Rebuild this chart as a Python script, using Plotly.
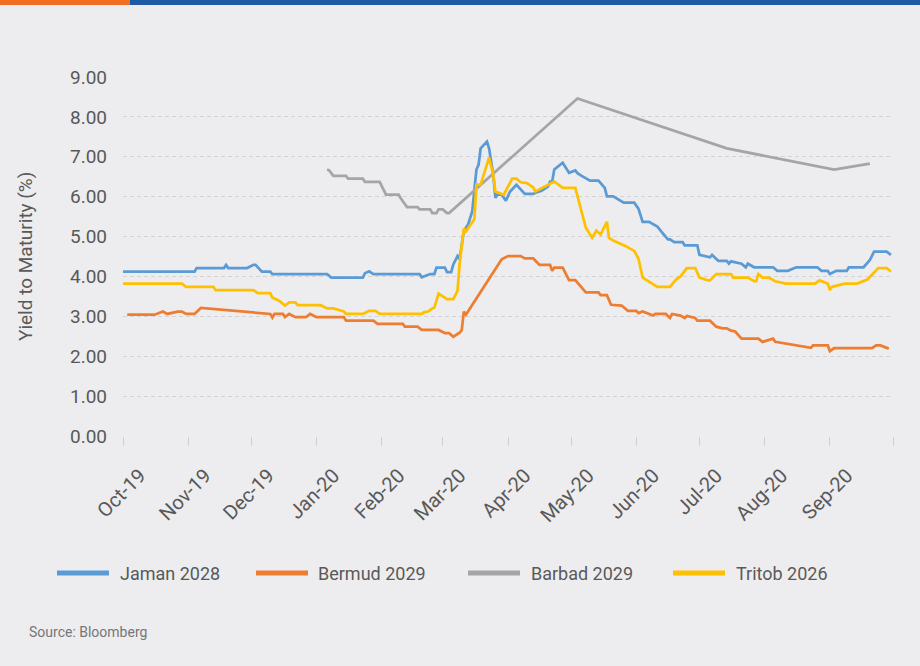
import plotly.graph_objects as go

# ---------------- data ----------------
jaman_dates = [
    "2019-10-01", "2019-11-04", "2019-11-05", "2019-11-18", "2019-11-19", "2019-11-20", "2019-11-29",
    "2019-12-02", "2019-12-03", "2019-12-06", "2019-12-10", "2019-12-11", "2020-01-06", "2020-01-08",
    "2020-01-23", "2020-01-24", "2020-01-26", "2020-01-28", "2020-02-19", "2020-02-20", "2020-02-24",
    "2020-02-26", "2020-02-27", "2020-03-02", "2020-03-03", "2020-03-05", "2020-03-06", "2020-03-08",
    "2020-03-09", "2020-03-11", "2020-03-13", "2020-03-15", "2020-03-17", "2020-03-18", "2020-03-19",
    "2020-03-22", "2020-03-23", "2020-03-25", "2020-03-26", "2020-03-27", "2020-03-29", "2020-03-31",
    "2020-04-02", "2020-04-05", "2020-04-09", "2020-04-13", "2020-04-14", "2020-04-17", "2020-04-20",
    "2020-04-21", "2020-04-22", "2020-04-23", "2020-04-27", "2020-04-30", "2020-05-03", "2020-05-04",
    "2020-05-06", "2020-05-08", "2020-05-10", "2020-05-14", "2020-05-17", "2020-05-18", "2020-05-21",
    "2020-05-26", "2020-05-31", "2020-06-02", "2020-06-03", "2020-06-04", "2020-06-07", "2020-06-09",
    "2020-06-11", "2020-06-13", "2020-06-16", "2020-06-17", "2020-06-19", "2020-06-23", "2020-06-24",
    "2020-06-30", "2020-07-01", "2020-07-06", "2020-07-07", "2020-07-10", "2020-07-14", "2020-07-15",
    "2020-07-16", "2020-07-21", "2020-07-23", "2020-07-24", "2020-07-27", "2020-08-05", "2020-08-07",
    "2020-08-12", "2020-08-16", "2020-08-26", "2020-08-28", "2020-08-31", "2020-09-01", "2020-09-04",
    "2020-09-09", "2020-09-10", "2020-09-17", "2020-09-20", "2020-09-22", "2020-09-28", "2020-09-30",
]
jaman_values = [
    4.12, 4.12, 4.21, 4.21, 4.29, 4.21, 4.21,
    4.29, 4.29, 4.12, 4.12, 4.06, 4.06, 3.97,
    3.97, 4.08, 4.13, 4.06, 4.06, 3.98, 4.06,
    4.06, 4.22, 4.22, 4.11, 4.11, 4.30, 4.51,
    4.43, 5.14, 5.30, 5.63, 6.68, 6.80, 7.21,
    7.38, 7.21, 6.55, 5.97, 6.05, 6.05, 5.90,
    6.13, 6.30, 6.07, 6.07, 6.10, 6.15, 6.25,
    6.38, 6.38, 6.68, 6.85, 6.60, 6.66, 6.59,
    6.52, 6.45, 6.40, 6.40, 6.22, 6.01, 6.01,
    5.85, 5.85, 5.70, 5.54, 5.37, 5.37, 5.30,
    5.25, 5.12, 4.93, 4.93, 4.86, 4.86, 4.78,
    4.78, 4.54, 4.48, 4.54, 4.39, 4.39, 4.32,
    4.38, 4.32, 4.23, 4.32, 4.23, 4.23, 4.14,
    4.14, 4.23, 4.23, 4.14, 4.14, 4.06, 4.14,
    4.14, 4.23, 4.23, 4.41, 4.62, 4.62, 4.54,
]

bermud_dates = [
    "2019-10-03", "2019-10-16", "2019-10-20", "2019-10-22", "2019-10-27", "2019-10-29", "2019-10-31",
    "2019-11-04", "2019-11-07", "2019-12-10", "2019-12-11", "2019-12-12", "2019-12-16", "2019-12-17",
    "2019-12-19", "2019-12-22", "2019-12-27", "2019-12-29", "2020-01-01", "2020-01-14", "2020-01-15",
    "2020-01-28", "2020-01-30", "2020-02-11", "2020-02-12", "2020-02-18", "2020-02-20", "2020-02-28",
    "2020-03-02", "2020-03-04", "2020-03-06", "2020-03-09", "2020-03-10", "2020-03-11", "2020-03-12",
    "2020-03-29", "2020-04-01", "2020-04-07", "2020-04-09", "2020-04-13", "2020-04-16", "2020-04-21",
    "2020-04-22", "2020-04-23", "2020-04-27", "2020-04-30", "2020-05-03", "2020-05-08", "2020-05-14",
    "2020-05-15", "2020-05-18", "2020-05-20", "2020-05-25", "2020-05-28", "2020-06-01", "2020-06-02",
    "2020-06-04", "2020-06-09", "2020-06-10", "2020-06-15", "2020-06-17", "2020-06-18", "2020-06-22",
    "2020-06-24", "2020-06-25", "2020-06-29", "2020-06-30", "2020-07-06", "2020-07-09", "2020-07-12",
    "2020-07-14", "2020-07-16", "2020-07-18", "2020-07-21", "2020-07-29", "2020-07-31", "2020-08-05",
    "2020-08-06", "2020-08-23", "2020-08-24", "2020-08-31", "2020-09-01", "2020-09-03", "2020-09-21",
    "2020-09-23", "2020-09-25", "2020-09-29",
]
bermud_values = [
    3.04, 3.04, 3.12, 3.06, 3.12, 3.12, 3.06,
    3.06, 3.21, 3.06, 2.97, 3.06, 3.06, 2.98,
    3.06, 2.98, 2.98, 3.06, 2.98, 2.98, 2.89,
    2.89, 2.81, 2.81, 2.74, 2.74, 2.66, 2.66,
    2.58, 2.58, 2.49, 2.59, 2.65, 3.12, 3.04,
    4.43, 4.51, 4.51, 4.45, 4.45, 4.29, 4.29,
    4.14, 4.22, 4.22, 3.91, 3.91, 3.60, 3.60,
    3.53, 3.53, 3.29, 3.27, 3.14, 3.14, 3.08,
    3.12, 3.02, 3.06, 3.06, 2.96, 3.06, 3.02,
    2.96, 3.01, 2.96, 2.89, 2.89, 2.74, 2.70,
    2.70, 2.64, 2.62, 2.44, 2.44, 2.36, 2.44,
    2.36, 2.21, 2.27, 2.27, 2.13, 2.20, 2.20,
    2.27, 2.27, 2.19,
]

barbad_dates = [
    "2020-01-06", "2020-01-07", "2020-01-09", "2020-01-15", "2020-01-16", "2020-01-23", "2020-01-24",
    "2020-01-31", "2020-02-03", "2020-02-09", "2020-02-10", "2020-02-13", "2020-02-18", "2020-02-19",
    "2020-02-24", "2020-02-25", "2020-02-27", "2020-02-28", "2020-03-01", "2020-03-03", "2020-03-04",
    "2020-05-04", "2020-07-14", "2020-08-25", "2020-09-03", "2020-09-20",
]
barbad_values = [
    6.68, 6.66, 6.52, 6.52, 6.45, 6.45, 6.37,
    6.37, 6.05, 6.05, 5.96, 5.74, 5.74, 5.68,
    5.68, 5.59, 5.59, 5.68, 5.68, 5.59, 5.59,
    8.46, 7.21, 6.76, 6.68, 6.83,
]

tritob_dates = [
    "2019-10-01", "2019-10-29", "2019-10-31", "2019-11-13", "2019-11-14", "2019-12-02", "2019-12-04",
    "2019-12-10", "2019-12-11", "2019-12-14", "2019-12-17", "2019-12-19", "2019-12-22", "2019-12-23",
    "2020-01-03", "2020-01-06", "2020-01-09", "2020-01-14", "2020-01-15", "2020-01-23", "2020-01-26",
    "2020-01-29", "2020-01-31", "2020-02-20", "2020-02-21", "2020-02-23", "2020-02-25", "2020-02-26",
    "2020-02-28", "2020-03-03", "2020-03-06", "2020-03-08", "2020-03-09", "2020-03-11", "2020-03-12",
    "2020-03-16", "2020-03-17", "2020-03-19", "2020-03-23", "2020-03-25", "2020-03-26", "2020-03-30",
    "2020-04-01", "2020-04-03", "2020-04-05", "2020-04-07", "2020-04-10", "2020-04-13", "2020-04-14",
    "2020-04-22", "2020-04-23", "2020-04-27", "2020-05-03", "2020-05-08", "2020-05-11", "2020-05-13",
    "2020-05-15", "2020-05-18", "2020-05-19", "2020-05-21", "2020-05-27", "2020-05-31", "2020-06-02",
    "2020-06-04", "2020-06-07", "2020-06-11", "2020-06-17", "2020-06-20", "2020-06-22", "2020-06-25",
    "2020-06-29", "2020-07-01", "2020-07-05", "2020-07-06", "2020-07-09", "2020-07-16", "2020-07-17",
    "2020-07-24", "2020-07-27", "2020-07-28", "2020-07-29", "2020-07-31", "2020-08-03", "2020-08-06",
    "2020-08-11", "2020-08-25", "2020-08-27", "2020-08-31", "2020-09-01", "2020-09-02", "2020-09-08",
    "2020-09-14", "2020-09-19", "2020-09-21", "2020-09-24", "2020-09-28", "2020-09-30",
]
tritob_values = [
    3.82, 3.82, 3.74, 3.74, 3.66, 3.66, 3.58,
    3.58, 3.47, 3.40, 3.27, 3.35, 3.35, 3.28,
    3.28, 3.20, 3.20, 3.12, 3.06, 3.06, 3.14,
    3.14, 3.06, 3.06, 3.10, 3.12, 3.20, 3.22,
    3.57, 3.43, 3.43, 3.64, 4.31, 5.20, 5.13,
    5.43, 6.30, 6.30, 6.98, 6.55, 6.13, 6.05,
    6.25, 6.45, 6.45, 6.36, 6.34, 6.23, 6.13,
    6.34, 6.38, 6.22, 6.22, 5.22, 4.97, 5.15,
    5.05, 5.37, 4.97, 4.90, 4.76, 4.64, 4.45,
    3.97, 3.87, 3.74, 3.74, 3.93, 4.00, 4.21,
    4.21, 3.97, 3.90, 3.90, 4.06, 4.06, 3.97,
    3.97, 3.88, 3.88, 4.06, 3.97, 3.97, 3.88,
    3.82, 3.82, 3.90, 3.82, 3.66, 3.74, 3.82,
    3.82, 3.93, 4.05, 4.21, 4.21, 4.12,
]

series_names = ["Jaman 2028", "Bermud 2029", "Barbad 2029", "Tritob 2026"]
series_colors = ["#5B9BD5", "#ED7D31", "#A5A5A5", "#FFC000"]

month_ticks = ["2019-10-01", "2019-11-01", "2019-12-01", "2020-01-01", "2020-02-01", "2020-03-01",
               "2020-04-01", "2020-05-01", "2020-06-01", "2020-07-01", "2020-08-01", "2020-09-01",
               "2020-10-01"]
month_labels = ["Oct-19", "Nov-19", "Dec-19", "Jan-20", "Feb-20", "Mar-20", "Apr-20", "May-20",
                "Jun-20", "Jul-20", "Aug-20", "Sep-20", ""]
y_ticks = [0, 1, 2, 3, 4, 5, 6, 7, 8, 9]

y_title = "Yield to Maturity (%)"
source_text = "Source: Bloomberg"

# ---------------- layout geometry ----------------
W, H = 920, 666
L, R, T, B = 123, 27, 77, 230
PW, PH = W - L - R, H - T - B


def px(x):
    return (x - L) / PW


def py(y):
    return (T + PH - y) / PH


FONT = "Roboto, 'Liberation Sans', Arial, sans-serif"
TXT = "#595959"
BG = "#EDEDEF"

fig = go.Figure()
all_series = [
    (jaman_dates, jaman_values),
    (bermud_dates, bermud_values),
    (barbad_dates, barbad_values),
    (tritob_dates, tritob_values),
]
for (d, v), name, col in zip(all_series, series_names, series_colors):
    fig.add_trace(go.Scatter(x=d, y=v, mode="lines", name=name,
                             line=dict(color=col, width=2.75), showlegend=False))

shapes = [
    dict(type="rect", xref="paper", yref="paper", x0=px(0), x1=px(130), y0=py(5), y1=py(0),
         fillcolor="#F26F21", line=dict(width=0), layer="above"),
    dict(type="rect", xref="paper", yref="paper", x0=px(130), x1=px(W), y0=py(5), y1=py(0),
         fillcolor="#1D5CA5", line=dict(width=0), layer="above"),
]
annotations = []
legend_line_x = [57, 256, 468, 673]
legend_text_x = [118, 316, 529, 734]
legend_y = 573
for name, col, lx, tx in zip(series_names, series_colors, legend_line_x, legend_text_x):
    shapes.append(dict(type="line", xref="paper", yref="paper", x0=px(lx), x1=px(lx + 52),
                       y0=py(legend_y), y1=py(legend_y), line=dict(color=col, width=5)))
    annotations.append(dict(xref="paper", yref="paper", x=px(tx), y=py(legend_y), text=name,
                            showarrow=False, xanchor="left", yanchor="middle",
                            font=dict(family=FONT, size=18, color=TXT)))

annotations.append(dict(xref="paper", yref="paper", x=px(27), y=py(632), text=source_text,
                        showarrow=False, xanchor="left", yanchor="middle",
                        font=dict(family=FONT, size=14, color="#767676")))
annotations.append(dict(xref="paper", yref="paper", x=px(25), y=py(257), text=y_title,
                        textangle=-90, showarrow=False, xanchor="center", yanchor="middle",
                        font=dict(family=FONT, size=19, color=TXT)))

fig.update_layout(
    width=W, height=H,
    margin=dict(l=L, r=R, t=T, b=B, autoexpand=False),
    paper_bgcolor=BG, plot_bgcolor=BG,
    font=dict(family=FONT, color=TXT),
    shapes=shapes, annotations=annotations,
    showlegend=False,
    xaxis=dict(
        type="date", range=["2019-10-01", "2020-10-01"],
        tickmode="array", tickvals=month_ticks, ticktext=month_labels,
        tickangle=-45, tickfont=dict(family=FONT, size=20, color=TXT),
        ticks="outside", ticklen=9, tickwidth=1, tickcolor="#D0D0D3",
        ticklabelshift=17, ticklabelstandoff=10,
        showgrid=False, showline=False, zeroline=False, fixedrange=True,
    ),
    yaxis=dict(
        range=[0, 9], tickmode="array", tickvals=y_ticks, tickformat=".2f",
        tickfont=dict(family=FONT, size=19, color=TXT),
        ticks="", ticklabelstandoff=15,
        showgrid=True, gridcolor="#D3D3D6", gridwidth=1, griddash="4px,3px",
        showline=False, zeroline=False, fixedrange=True,
    ),
)

fig.write_html(
    "out.html",
    config={"displayModeBar": False},
    post_script="document.body.style.margin='0';document.body.style.background='%s';" % BG,
)
